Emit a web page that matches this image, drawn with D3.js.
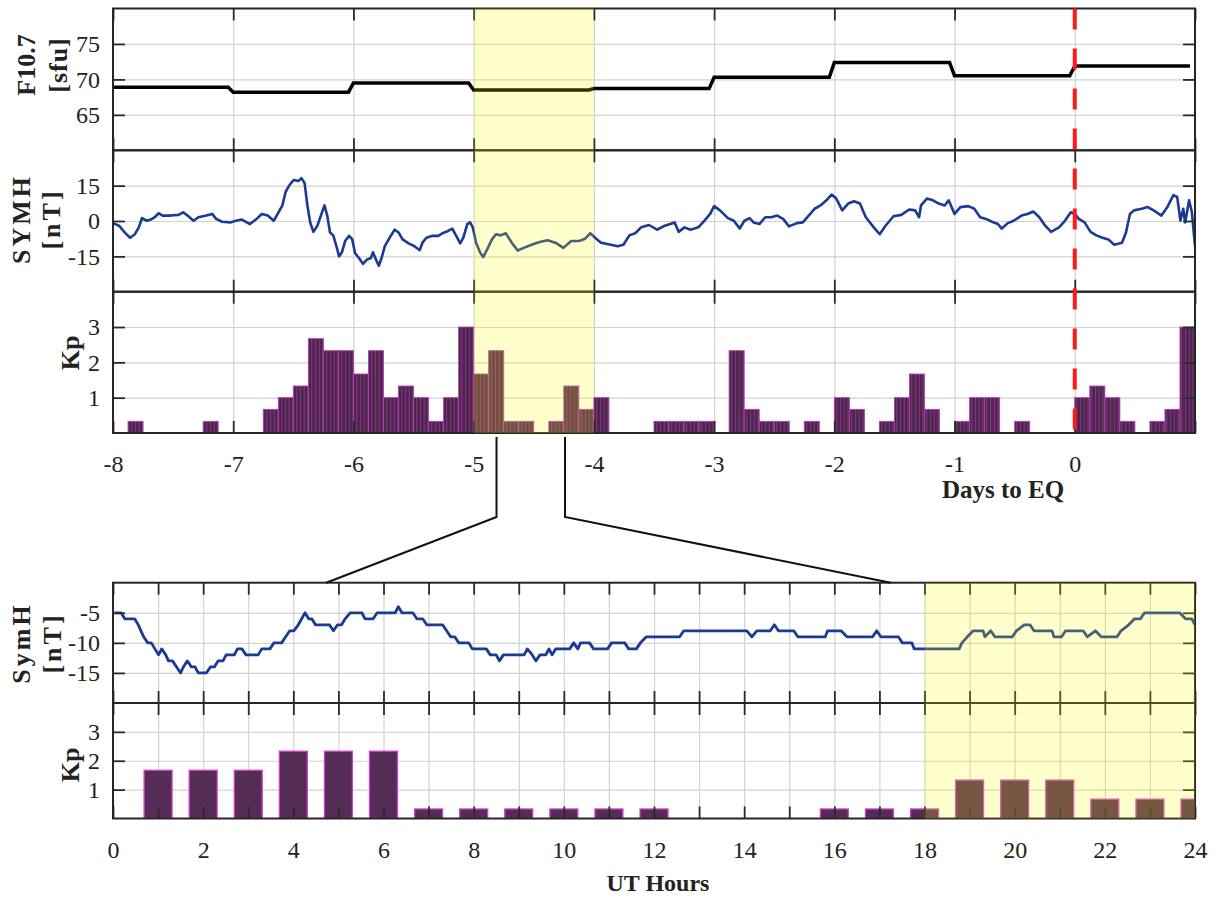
<!DOCTYPE html>
<html>
<head>
<meta charset="utf-8">
<script src="https://cdn.jsdelivr.net/npm/d3@7"></script>
<style>
  body { margin: 0; background: #fff; }
  text { font-family: "Liberation Serif", "Times New Roman", serif; fill: #222; }
  .tick text { font-size: 24px; }
  .ylab { font-weight: bold; font-size: 26px; }
</style>
</head>
<body>
<svg id="chart" width="1215" height="900"></svg>
<script>
// ---- data ----
const f107Days = [-8, -7, -6, -5, -4, -3, -2, -1, 0];
const f107Vals = [68.9, 68.2, 69.5, 68.5, 68.7, 70.3, 72.4, 70.5, 71.9];

// SYM-H over the 9 days, [days to EQ, nT]
const symhTop = [
  [-8.000,-0.9],[-7.950,-2.0],[-7.901,-4.9],[-7.858,-7.1],[-7.818,-5.6],[-7.785,-2.7],[-7.759,1.2],
  [-7.719,0.1],[-7.686,0.6],[-7.653,1.6],[-7.620,3.3],[-7.587,2.3],[-7.521,2.3],[-7.455,2.6],
  [-7.416,3.7],[-7.373,2.0],[-7.330,0.1],[-7.290,1.6],[-7.224,2.3],[-7.175,3.0],[-7.142,0.9],
  [-7.092,-0.3],[-7.026,-0.6],[-6.977,0.1],[-6.927,0.6],[-6.861,-1.3],[-6.812,0.6],[-6.762,3.0],
  [-6.713,2.3],[-6.663,0.1],[-6.630,3.0],[-6.591,6.6],[-6.564,12.4],[-6.531,15.3],[-6.498,17.4],
  [-6.459,17.0],[-6.432,18.2],[-6.406,16.0],[-6.383,6.6],[-6.360,-0.6],[-6.333,-4.6],[-6.300,-2.0],
  [-6.261,3.7],[-6.241,6.6],[-6.218,2.3],[-6.195,-4.9],[-6.168,-6.1],[-6.142,-10.7],[-6.119,-15.0],
  [-6.096,-13.3],[-6.069,-8.5],[-6.036,-6.3],[-6.010,-7.8],[-5.987,-13.6],[-5.954,-15.7],[-5.921,-18.2],
  [-5.888,-16.4],[-5.855,-15.7],[-5.838,-13.3],[-5.812,-16.4],[-5.789,-19.0],[-5.766,-15.7],[-5.739,-10.7],
  [-5.690,-6.3],[-5.657,-3.7],[-5.624,-4.9],[-5.591,-7.8],[-5.541,-9.5],[-5.492,-10.7],[-5.449,-12.4],
  [-5.426,-9.2],[-5.393,-7.1],[-5.343,-6.3],[-5.294,-6.3],[-5.261,-5.2],[-5.228,-4.6],[-5.178,-3.2],
  [-5.145,-6.3],[-5.112,-9.5],[-5.086,-7.1],[-5.053,-1.3],[-5.030,-0.6],[-5.007,-2.7],[-4.980,-9.2],
  [-4.947,-13.3],[-4.921,-15.3],[-4.888,-12.1],[-4.848,-7.8],[-4.815,-5.6],[-4.776,-6.1],[-4.733,-5.2],
  [-4.683,-9.2],[-4.634,-12.5],[-4.584,-11.4],[-4.518,-10.1],[-4.452,-8.9],[-4.386,-8.2],[-4.320,-9.2],
  [-4.254,-11.4],[-4.188,-8.5],[-4.122,-8.5],[-4.073,-7.5],[-4.030,-5.2],[-3.990,-7.1],[-3.941,-9.2],
  [-3.858,-10.1],[-3.803,-10.7],[-3.754,-10.1],[-3.705,-6.1],[-3.656,-5.2],[-3.607,-2.7],[-3.541,-1.7],
  [-3.475,-3.7],[-3.410,-2.0],[-3.328,-0.6],[-3.295,-4.6],[-3.246,-2.7],[-3.197,-3.7],[-3.131,-2.7],
  [-3.082,0.1],[-3.033,3.0],[-3.000,6.3],[-2.951,4.5],[-2.885,1.2],[-2.836,0.1],[-2.787,-3.2],
  [-2.748,0.1],[-2.705,1.2],[-2.672,-0.6],[-2.623,-1.3],[-2.574,1.6],[-2.525,1.6],[-2.475,2.3],
  [-2.426,0.9],[-2.377,-2.3],[-2.311,-0.9],[-2.262,-0.6],[-2.213,2.3],[-2.164,5.2],[-2.115,6.6],
  [-2.066,8.8],[-2.023,11.2],[-1.984,9.5],[-1.934,4.5],[-1.885,7.4],[-1.836,8.4],[-1.787,7.4],
  [-1.738,1.6],[-1.672,-2.7],[-1.623,-5.6],[-1.574,-2.0],[-1.508,2.0],[-1.443,2.6],[-1.377,4.9],
  [-1.328,4.5],[-1.295,1.6],[-1.279,6.6],[-1.230,9.5],[-1.180,8.8],[-1.131,7.4],[-1.082,6.6],
  [-1.049,8.8],[-1.000,3.0],[-0.951,5.9],[-0.885,6.3],[-0.836,5.2],[-0.787,1.6],[-0.738,0.9],
  [-0.689,-0.3],[-0.639,-1.3],[-0.607,-3.2],[-0.557,-0.9],[-0.508,0.1],[-0.443,2.3],[-0.393,3.0],
  [-0.344,4.0],[-0.295,1.6],[-0.246,-2.0],[-0.197,-4.6],[-0.131,-2.7],[-0.082,0.1],[-0.033,3.7],
  [0.000,3.0],[0.033,0.9],[0.082,-0.6],[0.131,-4.6],[0.180,-6.1],[0.230,-7.1],[0.279,-7.8],
  [0.328,-10.1],[0.393,-9.2],[0.426,-4.9],[0.459,3.0],[0.492,4.5],[0.557,5.2],[0.607,5.9],
  [0.656,4.5],[0.721,2.3],[0.770,5.9],[0.820,11.0],[0.852,10.2],[0.879,0.1],[0.902,5.2],
  [0.918,-0.6],[0.951,8.8],[0.974,3.7],[1.000,-10.7]
];

// 3-hourly Kp, 8 bins per day starting at day -8
const kpTop = [
  0, 0.33, 0, 0, 0, 0, 0.33, 0,
  0, 0, 0.67, 1, 1.33, 2.67, 2.33, 2.33,
  1.67, 2.33, 1, 1.33, 1, 0.33, 1, 3,
  1.67, 2.33, 0.33, 0.33, 0, 0.33, 1.33, 0.67,
  1, 0, 0, 0, 0.33, 0.33, 0.33, 0.33,
  0, 2.33, 0.67, 0.33, 0.33, 0, 0.33, 0,
  1, 0.67, 0, 0.33, 1, 1.67, 0.67, 0,
  0.33, 1, 1, 0, 0.33, 0, 0, 0,
  1, 1.33, 1, 0.33, 0, 0.33, 0.67, 3
];

// zoomed day: SymH [UT hour, nT]
const symhUt = [
  [0.04,-5],[0.18,-5],[0.26,-6],[0.48,-6],[0.56,-7],[0.62,-8],[0.68,-9],[0.77,-10],[0.85,-10],
  [0.93,-11],[1.01,-12],[1.08,-11],[1.17,-12],[1.23,-13],[1.32,-13],[1.41,-14],[1.50,-15],[1.56,-14],
  [1.65,-13],[1.74,-14],[1.82,-14],[1.89,-15],[2.07,-15],[2.16,-14],[2.25,-14],[2.33,-13],[2.44,-13],
  [2.51,-12],[2.69,-12],[2.76,-11],[2.86,-11],[2.95,-12],[3.22,-12],[3.30,-11],[3.48,-11],[3.57,-10],
  [3.74,-10],[3.83,-9],[3.92,-8],[4.01,-8],[4.11,-7],[4.26,-5],[4.34,-6],[4.41,-6],[4.49,-7],
  [4.80,-7],[4.89,-8],[4.98,-7],[5.07,-7],[5.15,-6],[5.26,-5],[5.52,-5],[5.59,-6],[5.77,-6],
  [5.86,-5],[6.26,-5],[6.33,-4],[6.41,-5],[6.65,-5],[6.74,-6],[6.87,-6],[6.96,-7],[7.31,-7],
  [7.40,-8],[7.49,-9],[7.58,-9],[7.67,-10],[7.89,-10],[7.97,-11],[8.28,-11],[8.37,-12],[8.50,-12],
  [8.57,-13],[8.66,-12],[9.12,-12],[9.19,-11],[9.30,-12],[9.38,-13],[9.47,-12],[9.60,-12],[9.67,-11],
  [9.74,-12],[9.82,-11],[10.13,-11],[10.22,-10],[10.31,-11],[10.37,-10],[10.57,-10],[10.66,-11],
  [10.97,-11],[11.06,-10],[11.35,-10],[11.44,-11],[11.61,-11],[11.70,-10],[11.83,-9],[12.57,-9],
  [12.66,-8],[14.06,-8],[14.17,-9],[14.28,-8],[14.58,-8],[14.67,-7],[14.76,-8],[15.10,-8],
  [15.19,-9],[15.80,-9],[15.85,-8],[16.15,-8],[16.28,-9],[16.85,-9],[16.94,-8],[17.03,-9],
  [17.42,-9],[17.51,-10],[17.72,-10],[17.77,-11],[18.77,-11],[18.83,-10],[18.95,-9],[19.08,-8],
  [19.30,-8],[19.34,-9],[19.47,-8],[19.56,-9],[19.95,-9],[20.04,-8],[20.21,-7],[20.34,-7],
  [20.43,-8],[20.83,-8],[20.87,-9],[21.04,-9],[21.13,-8],[21.52,-8],[21.61,-9],[21.79,-8],
  [21.92,-9],[22.27,-9],[22.36,-8],[22.53,-7],[22.66,-6],[22.79,-6],[22.88,-5],[23.66,-5],
  [23.79,-6],[23.93,-6],[24.0,-7]
];

// zoomed day: Kp at each UT hour
const kpUtHours = d3.range(1, 25);
const kpUtVals = [1.67, 1.67, 1.67, 2.33, 2.33, 2.33, 0.33, 0.33, 0.33, 0.33, 0.33, 0.33,
                  0, 0, 0, 0.33, 0.33, 0.33, 1.33, 1.33, 1.33, 0.67, 0.67, 0.67];

const dayTicks = d3.range(-8, 2);
const dayLabels = d3.range(-8, 1);
const hourTicks = d3.range(0, 25);
const hourLabels = d3.range(0, 25, 2);
const eqDay = 0;
const shadeDays = [-5, -4];
const shadeHours = [18, 24];
const zoomFromDays = [-4.81, -4.24];
const zoomToHours = [4.73, 17.25];

// ---- layout ----
const svg = d3.select("#chart");
const left = 113, right = 1195, tickLen = 12;
const xDays = d3.scaleLinear().domain([-8, 1]).range([left, right]);
const xHours = d3.scaleLinear().domain([0, 24]).range([left, right]);

const defs = svg.append("defs");
const pat = defs.append("pattern").attr("id", "kpStripes")
  .attr("patternUnits", "userSpaceOnUse").attr("width", 3.75).attr("height", 10);
pat.append("rect").attr("width", 3.75).attr("height", 10).attr("fill", "#4f2550");
pat.append("rect").attr("width", 1).attr("height", 10).attr("fill", "#7c3a7c");

let clipCount = 0;
function makePanel(x, y0, y1, domain, yTicks, xTicks) {
  const y = d3.scaleLinear().domain(domain).range([y1, y0]);
  const g = svg.append("g");
  const id = "clip" + (clipCount++);
  defs.append("clipPath").attr("id", id).append("rect")
    .attr("x", left).attr("y", y0).attr("width", right - left).attr("height", y1 - y0);

  // grid
  g.append("g").attr("transform", `translate(0,${y1})`)
    .call(d3.axisBottom(x).tickValues(xTicks).tickSize(-(y1 - y0)).tickFormat(""))
    .call(a => a.select(".domain").remove())
    .selectAll("line").attr("stroke", "#d2d2d2").attr("stroke-width", 1.2);
  g.append("g").attr("transform", `translate(${left},0)`)
    .call(d3.axisLeft(y).tickValues(yTicks).tickSize(-(right - left)).tickFormat(""))
    .call(a => a.select(".domain").remove())
    .selectAll("line").attr("stroke", "#d2d2d2").attr("stroke-width", 1.2);

  const data = g.append("g").attr("clip-path", `url(#${id})`);
  return { x, y, y0, y1, g, data, yTicks, xTicks };
}

function drawFrame(p, xLabels) {
  const fmt = d => String(d);
  const style = a => {
    a.select(".domain").remove();
    a.selectAll("line").attr("stroke", "#2a2a2a").attr("stroke-width", 1.8);
  };
  p.g.append("g").attr("transform", `translate(${left},0)`)
    .call(d3.axisLeft(p.y).tickValues(p.yTicks).tickSizeInner(-tickLen).tickSizeOuter(0).tickPadding(13).tickFormat(fmt))
    .call(style)
    .selectAll("text").attr("fill", "#222");
  p.g.append("g").attr("transform", `translate(${right},0)`)
    .call(d3.axisRight(p.y).tickValues(p.yTicks).tickSizeInner(-tickLen).tickSizeOuter(0).tickFormat(""))
    .call(style);
  p.g.append("g").attr("transform", `translate(0,${p.y0})`)
    .call(d3.axisTop(p.x).tickValues(p.xTicks).tickSizeInner(-tickLen).tickSizeOuter(0).tickFormat(""))
    .call(style);
  p.g.append("g").attr("transform", `translate(0,${p.y1})`)
    .call(d3.axisBottom(p.x).tickValues(p.xTicks).tickSizeInner(-tickLen).tickSizeOuter(0).tickPadding(22)
      .tickFormat(d => xLabels && xLabels.includes(d) ? String(d) : ""))
    .call(style)
    .selectAll("text").attr("fill", "#222");
  p.g.append("rect").attr("x", left).attr("y", p.y0)
    .attr("width", right - left).attr("height", p.y1 - p.y0)
    .attr("fill", "none").attr("stroke", "#262626").attr("stroke-width", 2);
}

// ---- top figure ----
const pF = makePanel(xDays, 8.5, 150.3, [60, 80], [65, 70, 75], dayTicks);
const pS = makePanel(xDays, 150.3, 291.7, [-30, 30], [-15, 0, 15], dayTicks);
const pK = makePanel(xDays, 291.7, 433, [0, 4], [1, 2, 3], dayTicks);

const f107Pts = f107Days.flatMap((d, i) => [[d, f107Vals[i]], [d + 23 / 24, f107Vals[i]]]);
pF.data.append("path").datum(f107Pts)
  .attr("fill", "none").attr("stroke", "#000").attr("stroke-width", 3.5)
  .attr("d", d3.line().x(d => xDays(d[0])).y(d => pF.y(d[1])));

pS.data.append("path").datum(symhTop)
  .attr("fill", "none").attr("stroke", "#1b3a94").attr("stroke-width", 2.6)
  .attr("stroke-linejoin", "round")
  .attr("d", d3.line().x(d => xDays(d[0])).y(d => pS.y(d[1])));

const kpBins = kpTop.map((v, i) => ({ t0: -8 + i / 8, t1: -8 + (i + 1) / 8, v })).filter(d => d.v > 0);
pK.data.selectAll("rect.kp").data(kpBins).join("rect").attr("class", "kp")
  .attr("x", d => xDays(d.t0)).attr("width", d => xDays(d.t1) - xDays(d.t0))
  .attr("y", d => pK.y(d.v)).attr("height", d => pK.y(0) - pK.y(d.v))
  .attr("fill", "url(#kpStripes)").attr("stroke", "#b23db2").attr("stroke-width", 0.9);

drawFrame(pF);
drawFrame(pS);
drawFrame(pK, dayLabels);

// ---- bottom figure ----
const pS2 = makePanel(xHours, 582.7, 703, [-20, 0], [-15, -10, -5], hourTicks);
const pK2 = makePanel(xHours, 703, 818.5, [0, 4], [1, 2, 3], hourTicks);

pS2.data.append("path").datum(symhUt)
  .attr("fill", "none").attr("stroke", "#1b3a94").attr("stroke-width", 2.8)
  .attr("stroke-linejoin", "round")
  .attr("d", d3.line().x(d => xHours(d[0])).y(d => pS2.y(d[1])));

const barW = 0.62;
pK2.data.selectAll("rect.kp").data(kpUtHours.map((h, i) => ({ h, v: kpUtVals[i] })).filter(d => d.v > 0))
  .join("rect").attr("class", "kp")
  .attr("x", d => xHours(d.h - barW / 2)).attr("width", xHours(barW) - xHours(0))
  .attr("y", d => pK2.y(d.v)).attr("height", d => pK2.y(0) - pK2.y(d.v))
  .attr("fill", "#552c55").attr("stroke", "#d040d0").attr("stroke-width", 1.3);

drawFrame(pS2);
drawFrame(pK2, hourLabels);

// ---- highlight bands ----
svg.append("rect")
  .attr("x", xDays(shadeDays[0])).attr("width", xDays(shadeDays[1]) - xDays(shadeDays[0]))
  .attr("y", pF.y0).attr("height", pK.y1 - pF.y0)
  .attr("fill", "#ffff00").attr("fill-opacity", 0.2);
svg.append("rect")
  .attr("x", xHours(shadeHours[0])).attr("width", xHours(shadeHours[1]) - xHours(shadeHours[0]))
  .attr("y", pS2.y0).attr("height", pK2.y1 - pS2.y0)
  .attr("fill", "#ffff00").attr("fill-opacity", 0.2);

// EQ day marker
svg.append("line")
  .attr("x1", xDays(eqDay)).attr("x2", xDays(eqDay))
  .attr("y1", pF.y0).attr("y2", pK.y1)
  .attr("stroke", "#ff1a1a").attr("stroke-width", 4).attr("stroke-dasharray", "21,19");

// zoom connectors
const linkTopY = 437, linkBendY = 517;
zoomFromDays.forEach((d, i) => {
  svg.append("path")
    .attr("d", d3.line()([[xDays(d), linkTopY], [xDays(d), linkBendY], [xHours(zoomToHours[i]), pS2.y0]]))
    .attr("fill", "none").attr("stroke", "#111").attr("stroke-width", 2);
});

// ---- labels ----
function ylab(lines, xs, cy, spacing) {
  lines.forEach((t, i) => {
    svg.append("text").attr("class", "ylab")
      .attr("transform", `translate(${xs[i]},${cy}) rotate(-90)`)
      .attr("text-anchor", "middle").attr("dy", "0.35em")
      .attr("letter-spacing", spacing[i])
      .text(t);
  });
}
ylab(["F10.7", "[sfu]"], [26, 58], 65, [0, 1]);
ylab(["SYMH", "[nT]"], [21, 51], 219, [3, 3]);
ylab(["Kp"], [70], 353, [0]);
ylab(["SymH", "[nT]"], [21, 52], 643, [3, 3]);
ylab(["Kp"], [70], 765, [0]);

svg.append("text").attr("x", 1003).attr("y", 498).attr("text-anchor", "middle")
  .attr("font-weight", "bold").attr("font-size", 25).text("Days to EQ");
svg.append("text").attr("x", 658).attr("y", 891).attr("text-anchor", "middle")
  .attr("font-weight", "bold").attr("font-size", 24).text("UT Hours");
</script>
</body>
</html>
